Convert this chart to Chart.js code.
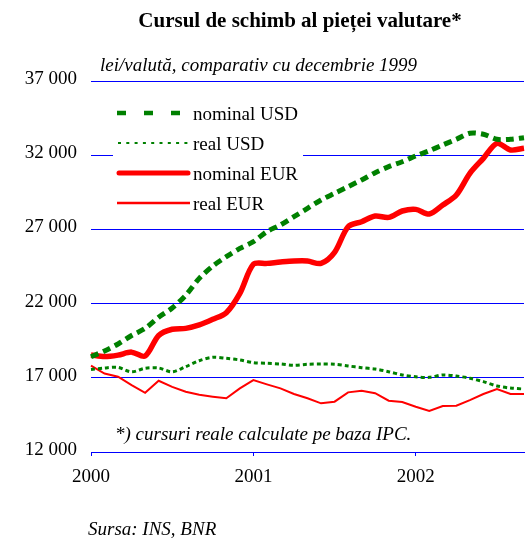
<!DOCTYPE html>
<html>
<head>
<meta charset="utf-8">
<script src="https://cdn.jsdelivr.net/npm/chart.js@4.4.1/dist/chart.umd.min.js"></script>
<style>
  html, body { margin: 0; padding: 0; background: #fff; }
  #wrap { width: 530px; height: 540px; }
</style>
</head>
<body>
<div id="wrap"><canvas id="chart" width="530" height="540"></canvas></div>
<script>
// monthly points, Jan 2000 .. Sep 2002 (lei per currency unit)
const MONTHS = [
  '2000-01','2000-02','2000-03','2000-04','2000-05','2000-06','2000-07','2000-08','2000-09','2000-10','2000-11','2000-12',
  '2001-01','2001-02','2001-03','2001-04','2001-05','2001-06','2001-07','2001-08','2001-09','2001-10','2001-11','2001-12',
  '2002-01','2002-02','2002-03','2002-04','2002-05','2002-06','2002-07','2002-08','2002-09'
];
const NOMINAL_USD = [18420, 18810, 19280, 19850, 20330, 21080, 21700, 22560, 23700, 24530, 25160, 25720,
  26170, 26850, 27300, 27860, 28420, 28980, 29430, 29880, 30330, 30820, 31230, 31560,
  31950, 32300, 32690, 33070, 33480, 33410, 33070, 33070, 33180];
const REAL_USD = [17560, 17660, 17700, 17400, 17640, 17660, 17400, 17750, 18150, 18380, 18310, 18200,
  18020, 17980, 17930, 17840, 17910, 17930, 17910, 17800, 17680, 17590, 17410, 17190,
  17070, 17030, 17190, 17120, 16970, 16740, 16450, 16310, 16240];
const NOMINAL_EUR = [18540, 18430, 18530, 18730, 18470, 19850, 20270, 20330, 20560, 20940, 21390, 22690,
  24650, 24710, 24800, 24870, 24870, 24710, 25450, 27180, 27520, 27900, 27810, 28240,
  28350, 28040, 28640, 29320, 30780, 31790, 32800, 32350, 32470];
const REAL_EUR = [17820, 17290, 17070, 16510, 15990, 16800, 16390, 16060, 15860, 15730, 15620, 16290,
  16850, 16560, 16290, 15910, 15620, 15280, 15390, 16020, 16130, 15960, 15460, 15370,
  15050, 14760, 15100, 15120, 15500, 15910, 16240, 15910, 15910];

const Y_MIN = 12000, Y_MAX = 37000, Y_STEP = 5000;

const TITLE = 'Cursul de schimb al pieței valutare*';
const SUBTITLE = 'lei/valută, comparativ cu decembrie 1999';
const FOOTNOTE = '*) cursuri reale calculate pe baza IPC.';
const SOURCE = 'Sursa: INS, BNR';

const GREEN = '#008000', RED = '#ff0000', BLUE = '#0000ff';
const SERIF = '"Liberation Serif", "Times New Roman", serif';

const fmtThousands = v => String(v).replace(/\B(?=(\d{3})+(?!\d))/g, ' ');

// legend + all the loose texts around the plot
const decor = {
  id: 'decor',
  beforeDatasetsDraw(chart){
    const ctx = chart.ctx;
    ctx.save();
    ctx.fillStyle = '#fff';
    ctx.fillRect(113, 98, 190, 120);
    ctx.font = '19px ' + SERIF;
    ctx.textBaseline = 'alphabetic';
    chart.data.datasets.forEach((ds, i) => {
      const y = 120 + i*30;
      const s = ds.legendSample;
      ctx.beginPath();
      ctx.strokeStyle = ds.borderColor;
      ctx.lineWidth = s.width;
      ctx.lineCap = s.cap;
      ctx.setLineDash(s.dash);
      ctx.moveTo(s.from, y - 7);
      ctx.lineTo(s.to, y - 7);
      ctx.stroke();
      ctx.setLineDash([]);
      ctx.fillStyle = '#000';
      ctx.fillText(ds.label, 193, y);
    });
    ctx.restore();
  },
  afterDraw(chart){
    const ctx = chart.ctx;
    ctx.save();
    ctx.fillStyle = '#000';
    ctx.textBaseline = 'alphabetic';
    ctx.font = 'bold 21px ' + SERIF;
    ctx.textAlign = 'center';
    ctx.fillText(TITLE, 300, 27);
    ctx.textAlign = 'left';
    ctx.font = 'italic 19px ' + SERIF;
    ctx.fillText(SUBTITLE, 100, 71);
    ctx.fillText(FOOTNOTE, 115, 440);
    ctx.fillText(SOURCE, 88, 535);
    ctx.restore();
  }
};

new Chart(document.getElementById('chart'), {
  type: 'line',
  data: {
    labels: MONTHS,
    datasets: [
      { label: 'nominal USD', data: NOMINAL_USD, borderColor: GREEN, borderWidth: 5, borderDash: [8, 5],
        tension: 0.3, legendSample: { width: 4.5, dash: [9, 18], cap: 'butt', from: 117, to: 180 } },
      { label: 'real USD', data: REAL_USD, borderColor: GREEN, borderWidth: 3, borderDash: [4, 3],
        tension: 0.3, legendSample: { width: 2, dash: [3, 5.3], cap: 'butt', from: 118, to: 190 } },
      { label: 'nominal EUR', data: NOMINAL_EUR, borderColor: RED, borderWidth: 5.5,
        tension: 0.3, legendSample: { width: 5, dash: [], cap: 'round', from: 119, to: 188 } },
      { label: 'real EUR', data: REAL_EUR, borderColor: RED, borderWidth: 2,
        tension: 0, legendSample: { width: 2.5, dash: [], cap: 'butt', from: 117, to: 190 } }
    ]
  },
  options: {
    responsive: false,
    animation: false,
    events: [],
    layout: { padding: { top: 81, right: 6, bottom: 48, left: 0 } },
    elements: { point: { radius: 0 }, line: { capBezierPoints: true } },
    plugins: { legend: { display: false }, tooltip: { enabled: false }, title: { display: false } },
    scales: {
      x: {
        type: 'category',
        offset: false,
        afterBuildTicks: scale => { scale.ticks = scale.ticks.filter(t => MONTHS[t.value].endsWith('-01')); },
        afterFit: scale => { scale.height = 40; },
        ticks: {
          autoSkip: false, maxRotation: 0, padding: 10, color: '#000',
          font: { family: SERIF, size: 19 },
          callback: v => MONTHS[v].slice(0, 4)
        },
        grid: { drawOnChartArea: false, drawTicks: true, tickLength: 4, tickColor: BLUE, color: BLUE },
        border: { display: true, color: BLUE, width: 1 }
      },
      y: {
        min: Y_MIN, max: Y_MAX,
        afterFit: scale => { scale.width = 91; },
        ticks: {
          stepSize: Y_STEP, padding: 14, color: '#000', labelOffset: -2,
          font: { family: SERIF, size: 19 },
          callback: v => fmtThousands(v)
        },
        grid: { color: BLUE, lineWidth: 1, drawTicks: false },
        border: { display: false }
      }
    }
  },
  plugins: [decor]
});
</script>
</body>
</html>
